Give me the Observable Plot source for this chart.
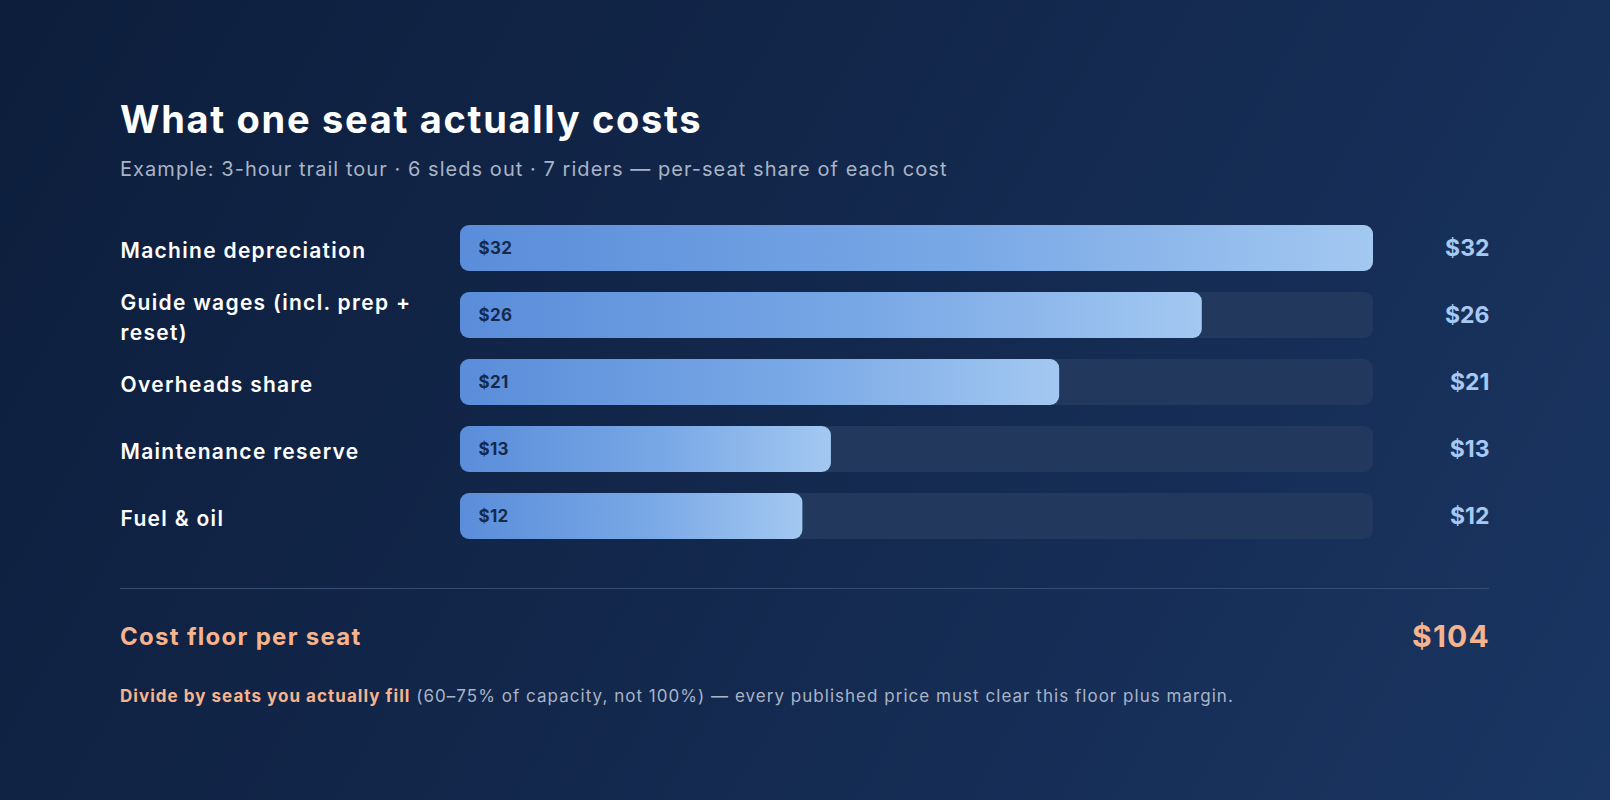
<!DOCTYPE html>
<html>
<head>
<meta charset="utf-8">
<script src="https://cdn.jsdelivr.net/npm/d3@7"></script>
<script src="https://cdn.jsdelivr.net/npm/@observablehq/plot@0.6"></script>
<style>
  html, body { margin: 0; padding: 0; }
  body {
    width: 1610px; height: 800px; overflow: hidden;
    background: linear-gradient(120deg, #0d1e3c 0%, #13284d 50%, #1a3663 100%);
    font-family: Inter, "Noto Sans", sans-serif;
  }
  #wrap { position: relative; width: 1610px; height: 800px; }
  .abs { position: absolute; left: 120px; line-height: 1; white-space: nowrap; }
  #title { top: 100px; font-size: 38px; font-weight: 700; color: #ffffff; letter-spacing: 1.7px; }
  #subtitle { top: 159px; font-size: 20px; font-weight: 400; color: #a9b4c7; letter-spacing: 1.05px; }
  #chart { position: absolute; left: 120px; top: 202px; }
  #rule { position: absolute; left: 120px; top: 588px; width: 1369px; height: 1px; background: #354d72; }
  #totalLabel { top: 625px; font-size: 24px; font-weight: 700; color: #f6b48e; letter-spacing: 1.3px; }
  #totalValue { top: 621px; left: auto; right: 120px; font-size: 30px; font-weight: 700; color: #f6b48e; letter-spacing: 1.2px; }
  #note { top: 688px; font-size: 17px; color: #a9b4c7; letter-spacing: 1.03px; }
  #note b { color: #f6b48e; font-weight: 700; }
</style>
</head>
<body>
<div id="wrap">
  <div id="title" class="abs"></div>
  <div id="subtitle" class="abs"></div>
  <div id="chart"></div>
  <div id="rule"></div>
  <div id="totalLabel" class="abs"></div>
  <div id="totalValue" class="abs"></div>
  <div id="note" class="abs"></div>
</div>
<script>
const titleText = "What one seat actually costs";
const subtitleText = "Example: 3-hour trail tour · 6 sleds out · 7 riders — per-seat share of each cost";
const categories = [
  "Machine depreciation",
  "Guide wages (incl. prep + reset)",
  "Overheads share",
  "Maintenance reserve",
  "Fuel & oil"
];
const costs = [32, 26, 21, 13, 12];
const totalLabelText = "Cost floor per seat";
const noteBold = "Divide by seats you actually fill";
const noteRest = " (60–75% of capacity, not 100%) — every published price must clear this floor plus margin.";

const rows = categories.map((c, i) => ({label: c, value: costs[i]}));
const maxCost = d3.max(costs);
const total = d3.sum(costs);
const fmt = v => "$" + v;

document.getElementById("title").textContent = titleText;
document.getElementById("subtitle").textContent = subtitleText;
document.getElementById("totalLabel").textContent = totalLabelText;
document.getElementById("totalValue").textContent = fmt(total);
const note = document.getElementById("note");
const b = document.createElement("b"); b.textContent = noteBold;
note.appendChild(b); note.appendChild(document.createTextNode(noteRest));

const gradientDefs = () => {
  const ns = "http://www.w3.org/2000/svg";
  const defs = document.createElementNS(ns, "defs");
  const g = document.createElementNS(ns, "linearGradient");
  g.setAttribute("id", "barGrad");
  g.setAttribute("x1", "0"); g.setAttribute("x2", "1");
  g.setAttribute("y1", "0"); g.setAttribute("y2", "0");
  [["0%", "#5a8dda"], ["55%", "#79a8e6"], ["100%", "#a3c8f1"]].forEach(([o, c]) => {
    const s = document.createElementNS(ns, "stop");
    s.setAttribute("offset", o); s.setAttribute("stop-color", c);
    g.appendChild(s);
  });
  defs.appendChild(g);
  return defs;
};

const chart = Plot.plot({
  width: 1369,
  height: 359,
  marginLeft: 340,
  marginRight: 116,
  marginTop: 0,
  marginBottom: 0,
  x: {domain: [0, maxCost], axis: null},
  y: {domain: categories, axis: null, padding: 0.318},
  style: {background: "transparent", fontFamily: "Inter, 'Noto Sans', sans-serif", overflow: "visible"},
  marks: [
    gradientDefs,
    Plot.barX(rows, {x1: 0, x2: () => maxCost, y: "label", fill: "#22385d", rx: 9}),
    Plot.barX(rows, {x1: 0, x2: "value", y: "label", fill: "url(#barGrad)", rx: 9}),
    Plot.text(rows, {x: 0, y: "label", text: d => fmt(d.value), dx: 18, textAnchor: "start",
      fill: "#142a4d", fontSize: 17, fontWeight: 700}),
    Plot.text(rows, {y: "label", text: "label", frameAnchor: "left", dx: -340, textAnchor: "start",
      lineWidth: 14.3, lineHeight: 1.45, fill: "#ffffff", fontSize: 21, fontWeight: 600}),
    Plot.text(rows, {y: "label", text: d => fmt(d.value), frameAnchor: "right", dx: 116, textAnchor: "end",
      fill: "#a6c9f2", fontSize: 23, fontWeight: 700})
  ]
});
// widen the lettering of the in-bar and row labels
const textGroups = d3.select(chart).selectAll("g[aria-label=text]").nodes();
d3.select(textGroups[0]).attr("letter-spacing", "0.3px");
d3.select(textGroups[1]).attr("letter-spacing", "1.3px");
document.getElementById("chart").appendChild(chart);
</script>
</body>
</html>
